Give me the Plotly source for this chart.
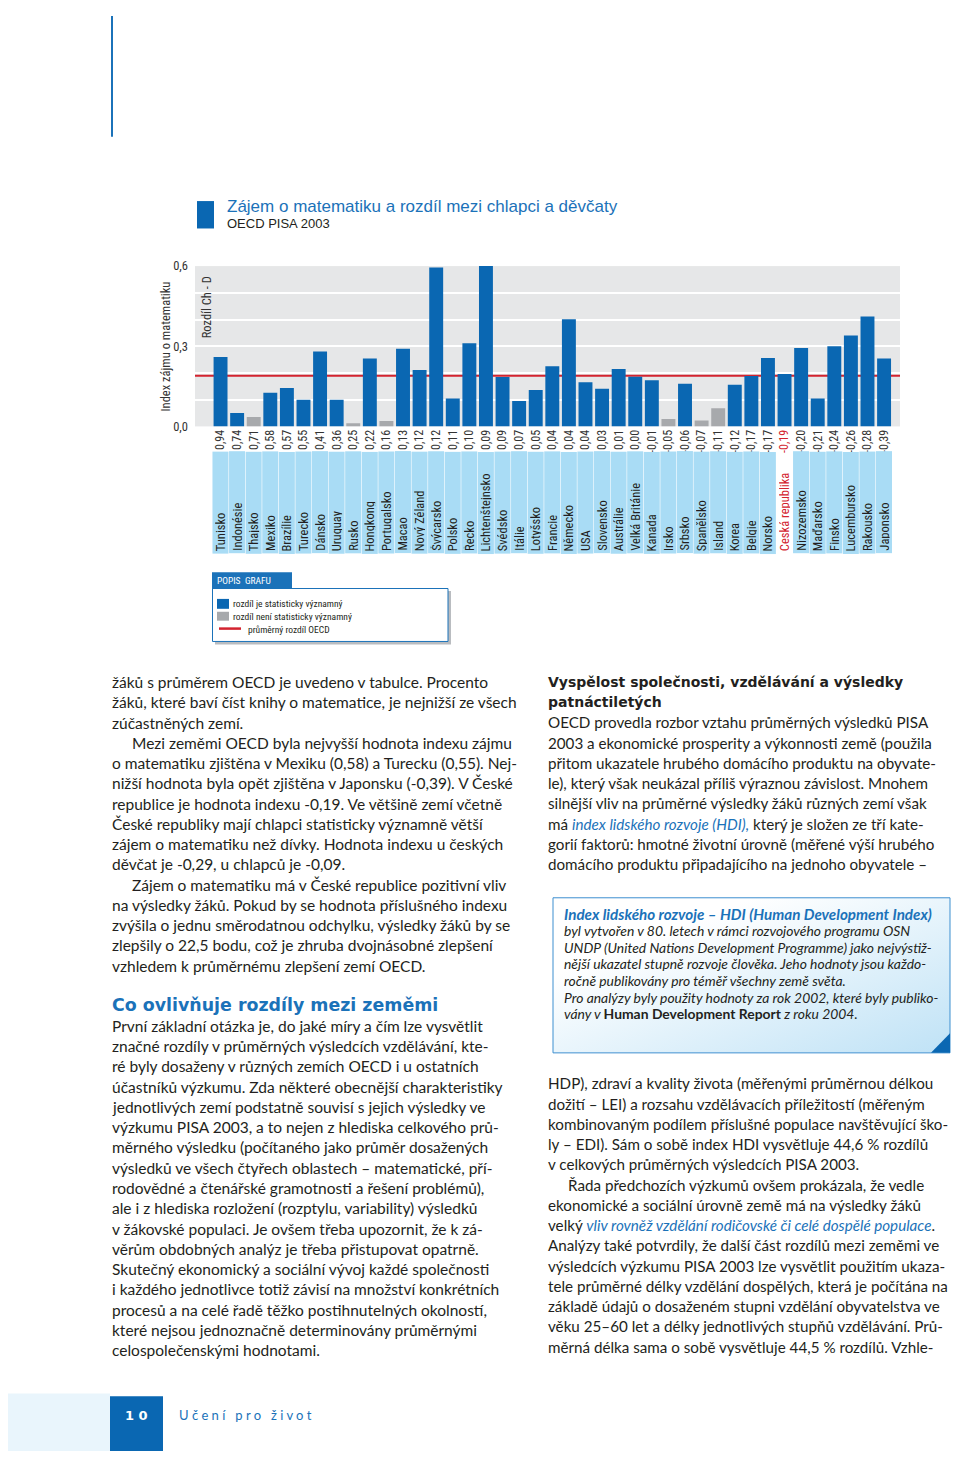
import base64
import plotly.graph_objects as go

# ---------------- DATA ----------------
countries = ["Tunisko", "Indonésie", "Thajsko", "Mexiko", "Brazílie", "Turecko", "Dánsko",
             "Uruguay", "Rusko", "Hongkong", "Portugalsko", "Macao", "Nový Zéland", "Švýcarsko",
             "Polsko", "Řecko", "Lichtenštejnsko", "Švédsko", "Itálie", "Lotyšsko", "Francie",
             "Německo", "USA", "Slovensko", "Austrálie", "Velká Británie", "Kanada", "Irsko",
             "Srbsko", "Španělsko", "Island", "Korea", "Belgie", "Norsko", "Česká republika",
             "Nizozemsko", "Maďarsko", "Finsko", "Lucembursko", "Rakousko", "Japonsko"]
index_labels = ["0,94", "0,74", "0,71", "0,58", "0,57", "0,55", "0,41", "0,36", "0,25", "0,22",
                "0,16", "0,13", "0,12", "0,12", "0,11", "0,10", "0,09", "0,09", "0,07", "0,05",
                "0,04", "0,04", "0,04", "0,03", "0,01", "0,00", "-0,01", "-0,05", "-0,06", "-0,07",
                "-0,11", "-0,12", "-0,17", "-0,17", "-0,19", "-0,20", "-0,21", "-0,24", "-0,26",
                "-0,28", "-0,39"]
diff_boys_girls = [0.26, 0.05, 0.035, 0.126, 0.144, 0.10, 0.28, 0.10, 0.012, 0.254, 0.02, 0.291,
                   0.211, 0.595, 0.104, 0.311, 0.60, 0.185, 0.095, 0.136, 0.225, 0.401, 0.165,
                   0.141, 0.215, 0.186, 0.173, 0.028, 0.16, 0.022, 0.068, 0.156, 0.189, 0.256,
                   0.196, 0.293, 0.104, 0.30, 0.34, 0.411, 0.254]
not_significant = ["Thajsko", "Rusko", "Portugalsko", "Irsko", "Španělsko", "Island"]
oecd_mean_diff = 0.19
highlight = "Česká republika"
y_ticks = [0.0, 0.3, 0.6]
y_ticktext = ["0,0", "0,3", "0,6"]
y_minor = [0.1, 0.2, 0.4, 0.5]

title = "Zájem o matematiku a rozdíl mezi chlapci a děvčaty"
subtitle = "OECD PISA 2003"
y_title = "Index zájmu o matematiku"
inner_title = "Rozdíl Ch - D"
legend_head = "POPIS\u00a0\u00a0GRAFU"
legend_items = ["rozdíl je statisticky významný", "rozdíl není statisticky významný",
                "průměrný rozdíl OECD"]

BLUE_I = '<span style="color:#1b72b9"><i>'
left_par1 = [
    "žáků s průměrem OECD je uvedeno v tabulce. Procento",
    "žáků, které baví číst knihy o matematice, je nejnižší ze všech",
    "zúčastněných zemí.",
    "\tMezi zeměmi OECD byla nejvyšší hodnota indexu zájmu",
    "o matematiku zjištěna v Mexiku (0,58) a Turecku (0,55). Nej-",
    "nižší hodnota byla opět zjištěna v Japonsku (-0,39). V České",
    "republice je hodnota indexu -0,19. Ve většině zemí včetně",
    "České republiky mají chlapci statisticky významně větší",
    "zájem o matematiku než dívky. Hodnota indexu u českých",
    "děvčat je -0,29, u chlapců je -0,09.",
    "\tZájem o matematiku má v České republice pozitivní vliv",
    "na výsledky žáků. Pokud by se hodnota příslušného indexu",
    "zvýšila o jednu směrodatnou odchylku, výsledky žáků by se",
    "zlepšily o 22,5 bodu, což je zhruba dvojnásobné zlepšení",
    "vzhledem k průměrnému zlepšení zemí OECD.",
]
left_heading = "Co ovlivňuje rozdíly mezi zeměmi"
left_par2 = [
    "První základní otázka je, do jaké míry a čím lze vysvětlit",
    "značné rozdíly v průměrných výsledcích vzdělávání, kte-",
    "ré byly dosaženy v různých zemích OECD i u ostatních",
    "účastníků výzkumu. Zda některé obecnější charakteristiky",
    "jednotlivých zemí podstatně souvisí s jejich výsledky ve",
    "výzkumu PISA 2003, a to nejen z hlediska celkového prů-",
    "měrného výsledku (počítaného jako průměr dosažených",
    "výsledků ve všech čtyřech oblastech – matematické, pří-",
    "rodovědné a čtenářské gramotnosti a řešení problémů),",
    "ale i z hlediska rozložení (rozptylu, variability) výsledků",
    "v žákovské populaci. Je ovšem třeba upozornit, že k zá-",
    "věrům obdobných analýz je třeba přistupovat opatrně.",
    "Skutečný ekonomický a sociální vývoj každé společnosti",
    "i každého jednotlivce totiž závisí na množství konkrétních",
    "procesů a na celé řadě těžko postihnutelných okolností,",
    "které nejsou jednoznačně determinovány průměrnými",
    "celospolečenskými hodnotami.",
]
right_heading = ["Vyspělost společnosti, vzdělávání a výsledky", "patnáctiletých"]
right_par1 = [
    "OECD provedla rozbor vztahu průměrných výsledků PISA",
    "2003 a ekonomické prosperity a výkonnosti země (použila",
    "přitom ukazatele hrubého domácího produktu na obyvate-",
    "le), který však neukázal příliš výraznou závislost. Mnohem",
    "silnější vliv na průměrné výsledky žáků různých zemí však",
    "má " + BLUE_I + "index lidského rozvoje (HDI),</i></span> který je složen ze tří kate-",
    "gorií faktorů: hmotné životní úrovně (měřené výší hrubého",
    "domácího produktu připadajícího na jednoho obyvatele –",
]
box_title = "Index lidského rozvoje – HDI (Human Development Index)"
box_lines = [
    "<i>byl vytvořen v 80. letech v rámci rozvojového programu OSN</i>",
    "<i>UNDP (United Nations Development Programme) jako nejvýstiž-</i>",
    "<i>nější ukazatel stupně rozvoje člověka. Jeho hodnoty jsou každo-</i>",
    "<i>ročně publikovány pro téměř všechny země světa.</i>",
    "<i>Pro analýzy byly použity hodnoty za rok 2002, které byly publiko-</i>",
    "<i>vány v </i><b>Human Development Report</b><i> z roku 2004.</i>",
]
right_par2 = [
    "HDP), zdraví a kvality života (měřenými průměrnou délkou",
    "dožití – LEI) a rozsahu vzdělávacích příležitostí (měřeným",
    "kombinovaným podílem příslušné populace navštěvující ško-",
    "ly – EDI). Sám o sobě index HDI vysvětluje 44,6 % rozdílů",
    "v celkových průměrných výsledcích PISA 2003.",
    "\tŘada předchozích výzkumů ovšem prokázala, že vedle",
    "ekonomické a sociální úrovně země má na výsledky žáků",
    "velký " + BLUE_I + "vliv rovněž vzdělání rodičovské či celé dospělé populace</i></span>.",
    "Analýzy také potvrdily, že další část rozdílů mezi zeměmi ve",
    "výsledcích výzkumu PISA 2003 lze vysvětlit použitím ukaza-",
    "tele průměrné délky vzdělání dospělých, která je počítána na",
    "základě údajů o dosaženém stupni vzdělání obyvatelstva ve",
    "věku 25–60 let a délky jednotlivých stupňů vzdělávání. Prů-",
    "měrná délka sama o sobě vysvětluje 44,5 % rozdílů. Vzhle-",
]
page_number = "1\u00a00"
footer_words = ["Učení", "pro", "život"]

# ---------------- STYLE / PAGE GEOMETRY ----------------
# The html body adds an 8px margin; figure is sized so the page is exactly 960x1466.
OFF = 8
FW, FH = 960 - 2 * OFF, 1466 - 2 * OFF
BLUE = "#0a67b2"
GRAY = "#a7a9ac"
RED = "#d3232f"
LIGHTBLUE = "#a9dcf5"
TBLUE = "#1b72b9"
TXT = "#231f20"
COND = "Liberation Sans Narrow, Arial Narrow, Roboto Condensed, Liberation Sans, sans-serif"
BODY = "Gill Sans, Gill Sans MT, Lato, sans-serif"
HEAD = "Verdana, DejaVu Sans, sans-serif"


def px(x):
    return (x - OFF) / FW


def py(y):
    return 1 - (y - OFF) / FH


fig = go.Figure()
colors = [GRAY if c in not_significant else BLUE for c in countries]
fig.add_trace(go.Bar(x=countries, y=diff_boys_girls, marker=dict(color=colors, line=dict(width=0)),
                     width=0.84, hoverinfo="skip", showlegend=False))

ticktext = [f'<span style="color:{RED}">{lab}</span>' if c == highlight else lab
            for c, lab in zip(countries, index_labels)]

fig.update_layout(
    width=FW, height=FH, margin=dict(l=0, r=0, t=0, b=0),
    paper_bgcolor="white", plot_bgcolor="#e6e7e8",
    bargap=0.16, showlegend=False,
    xaxis=dict(domain=[px(195), px(900)], range=[-1.54, 40.96], type="category",
               tickvals=countries, ticktext=ticktext, tickangle=-90, ticks="",
               showgrid=False, zeroline=False, showline=False,
               tickfont=dict(family=COND, size=12, color="#333333")),
    yaxis=dict(domain=[py(422.7), py(260.7)], range=[0, 0.6], tickvals=y_ticks,
               ticktext=y_ticktext, showgrid=True, gridcolor="white", gridwidth=2,
               zeroline=False, showline=False, ticks="", ticklabelstandoff=6,
               minor=dict(tickvals=y_minor, showgrid=True, gridcolor="white", gridwidth=2),
               tickfont=dict(family=COND, size=12.5, color="#333333")),
)

shapes = []
annotations = []

# OECD mean line
shapes.append(dict(type="line", xref="x domain", yref="y", x0=0, x1=1,
                   y0=oecd_mean_diff, y1=oecd_mean_diff, line=dict(color=RED, width=2),
                   layer="below"))

# country label boxes
for i, c in enumerate(countries):
    cz = c == highlight
    annotations.append(dict(x=i, y=py(551.7), xref="x", yref="paper", text=c, textangle=-90,
                            showarrow=False, xanchor="center", yanchor="bottom",
                            width=97, height=11, borderpad=2,
                            bgcolor="rgba(0,0,0,0)" if cz else LIGHTBLUE, align="left",
                            font=dict(family=COND, size=12.5, color=RED if cz else TXT)))

# axis titles
annotations.append(dict(x=px(166), y=py(342), xref="paper", yref="paper", text=y_title,
                        textangle=-90, showarrow=False, xanchor="center", yanchor="middle",
                        font=dict(family=COND, size=12.5, color="#333333")))
annotations.append(dict(x=px(206), y=py(269), xref="paper", yref="paper", text=inner_title,
                        textangle=-90, showarrow=False, xanchor="center", yanchor="top",
                        font=dict(family=COND, size=12.5, color="#333333")))

# title
shapes.append(dict(type="rect", xref="paper", yref="paper", x0=px(197), x1=px(214),
                   y0=py(222.7), y1=py(195), fillcolor=BLUE, line=dict(width=0)))
annotations.append(dict(x=px(225), y=py(200.5), xref="paper", yref="paper", text=title,
                        showarrow=False, xanchor="left", yanchor="middle",
                        font=dict(family="Liberation Sans, Arial, sans-serif", size=17, color=TBLUE)))
annotations.append(dict(x=px(225), y=py(217.5), xref="paper", yref="paper", text=subtitle,
                        showarrow=False, xanchor="left", yanchor="middle",
                        font=dict(family="Liberation Sans, Arial, sans-serif", size=13, color=TXT)))

# top page line
shapes.append(dict(type="line", xref="paper", yref="paper", x0=px(112), x1=px(112),
                   y0=1.0, y1=py(130), line=dict(color=TBLUE, width=2)))

# legend box
shapes.append(dict(type="rect", xref="paper", yref="paper", x0=px(215), x1=px(451),
                   y0=py(643), y1=py(589), fillcolor="#b9bcc0", line=dict(width=0)))
shapes.append(dict(type="rect", xref="paper", yref="paper", x0=px(212.5), x1=px(448),
                   y0=py(640), y1=py(586.5), fillcolor="white", line=dict(color=TBLUE, width=1)))
shapes.append(dict(type="rect", xref="paper", yref="paper", x0=px(212), x1=px(292),
                   y0=py(587), y1=py(570), fillcolor=TBLUE, line=dict(width=0)))
annotations.append(dict(x=px(215), y=py(578.5), xref="paper", yref="paper", text=legend_head,
                        showarrow=False, xanchor="left", yanchor="middle",
                        font=dict(family=COND, size=9.5, color="white")))
shapes.append(dict(type="rect", xref="paper", yref="paper", x0=px(217), x1=px(229),
                   y0=py(607), y1=py(597), fillcolor=BLUE, line=dict(width=0)))
shapes.append(dict(type="rect", xref="paper", yref="paper", x0=px(217), x1=px(229),
                   y0=py(619), y1=py(610), fillcolor=GRAY, line=dict(width=0)))
shapes.append(dict(type="line", xref="paper", yref="paper", x0=px(219), x1=px(241),
                   y0=py(627), y1=py(627), line=dict(color=RED, width=2.5)))
for txt, xx, yy in zip(legend_items, [230.5, 230.5, 246], [602, 614.5, 627.5]):
    annotations.append(dict(x=px(xx), y=py(yy), xref="paper", yref="paper", text=txt,
                            showarrow=False, xanchor="left", yanchor="middle",
                            font=dict(family=COND, size=9.5, color=TXT)))

# body text helpers
LS = 20.47


def add_lines(lines, x0, y0, size=15.5, indent=20, color=TXT, family=BODY, step=LS):
    for k, ln in enumerate(lines):
        xx = x0
        if ln.startswith("\t"):
            ln = ln[1:]
            xx = x0 + indent
        annotations.append(dict(x=px(xx), y=py(y0 + k * step), xref="paper", yref="paper",
                                text=ln, showarrow=False, xanchor="left", yanchor="middle",
                                font=dict(family=family, size=size, color=color)))


add_lines(left_par1, 110, 681)
annotations.append(dict(x=px(110), y=py(1007), xref="paper", yref="paper",
                        text="<b>" + left_heading + "</b>", showarrow=False, xanchor="left",
                        yanchor="middle", font=dict(family=HEAD, size=17.4, color=TBLUE)))
add_lines(left_par2, 110, 1028.5)

for k, ln in enumerate(right_heading):
    annotations.append(dict(x=px(546), y=py(680.5 + k * LS), xref="paper", yref="paper",
                            text="<b>" + ln + "</b>", showarrow=False, xanchor="left",
                            yanchor="middle", font=dict(family=HEAD, size=14, color=TXT)))
add_lines(right_par1, 546, 721.7, size=15.2)
add_lines(right_par2, 546, 1086.5, size=15.2)

# HDI box with gradient background
svg = ('<svg xmlns="http://www.w3.org/2000/svg" width="400" height="160">'
       '<defs><linearGradient id="g" x1="0" y1="0" x2="1" y2="1">'
       '<stop offset="0.25" stop-color="#ffffff"/><stop offset="1" stop-color="#bfe2f6"/>'
       '</linearGradient></defs><rect width="400" height="160" fill="url(#g)"/></svg>')
src = "data:image/svg+xml;base64," + base64.b64encode(svg.encode()).decode()
fig.add_layout_image(dict(source=src, xref="paper", yref="paper", x=px(553), y=py(899),
                          sizex=(950 - 553) / FW, sizey=(1055.7 - 899) / FH,
                          xanchor="left", yanchor="top", sizing="stretch", layer="below"))
shapes.append(dict(type="rect", xref="paper", yref="paper", x0=px(553), x1=px(950),
                   y0=py(1055.7), y1=py(899), line=dict(color="#3d8fd0", width=1)))
shapes.append(dict(type="path", xref="paper", yref="paper",
                   path=f"M {px(931)},{py(1055.7)} L {px(950)},{py(1055.7)} L {px(950)},{py(1036)} Z",
                   fillcolor=BLUE, line=dict(width=0)))
annotations.append(dict(x=px(562), y=py(915.5), xref="paper", yref="paper",
                        text=f'<b><i>{box_title}</i></b>', showarrow=False, xanchor="left",
                        yanchor="middle", font=dict(family=BODY, size=15.2, color=TBLUE)))
add_lines(box_lines, 562, 932.3, size=13.9, step=16.8)

# footer
shapes.append(dict(type="rect", xref="paper", yref="paper", x0=0, x1=px(110),
                   y0=0, y1=py(1400), fillcolor="#e9f5fc", line=dict(width=0)))
shapes.append(dict(type="rect", xref="paper", yref="paper", x0=px(110), x1=px(163),
                   y0=0, y1=py(1402.7), fillcolor=BLUE, line=dict(width=0)))
annotations.append(dict(x=px(136.5), y=py(1422), xref="paper", yref="paper",
                        text="<b>" + page_number + "</b>", showarrow=False, xanchor="center",
                        yanchor="middle", font=dict(family=HEAD, size=13, color="white")))
footer_text = "\u00a0\u00a0\u00a0".join("\u00a0".join(w) for w in footer_words)
annotations.append(dict(x=px(177), y=py(1422), xref="paper", yref="paper", text=footer_text,
                        showarrow=False, xanchor="left", yanchor="middle",
                        font=dict(family=BODY, size=13, color=TBLUE)))

fig.update_layout(shapes=shapes, annotations=annotations)
fig.write_html("out.html", config={"displayModeBar": False})
